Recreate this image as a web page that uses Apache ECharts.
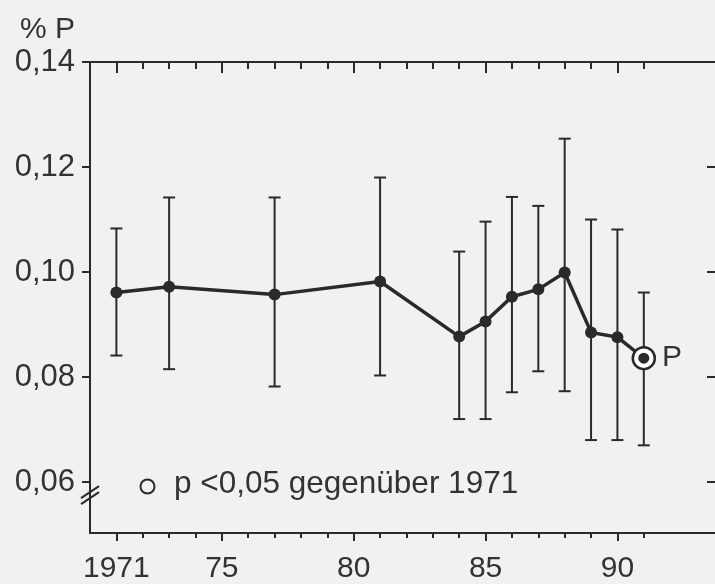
<!DOCTYPE html>
<html>
<head>
<meta charset="utf-8">
<script src="https://cdn.jsdelivr.net/npm/echarts@6/dist/echarts.min.js"></script>
<style>
  html, body { margin: 0; padding: 0; background: #f1f1f1; }
  #main { width: 715px; height: 584px; }
</style>
</head>
<body>
<div id="main"></div>
<script>
// values (% P per year, mean with upper/lower range)
const years = [1971, 1973, 1977, 1981, 1984, 1985, 1986, 1987, 1988, 1989, 1990, 1991]
const means = [0.0961, 0.0972, 0.0957, 0.0982, 0.0877, 0.0906, 0.0953, 0.0967, 0.0999, 0.0885, 0.0876, 0.0836]
const upper = [0.1083, 0.1142, 0.1142, 0.1180, 0.1039, 0.1096, 0.1143, 0.1126, 0.1254, 0.1100, 0.1081, 0.0961]
const lower = [0.0841, 0.0815, 0.0782, 0.0803, 0.0720, 0.0720, 0.0771, 0.0811, 0.0773, 0.0680, 0.0680, 0.0670]
const significant = [false, false, false, false, false, false, false, false, false, false, false, true]

const majorYears = [1971, 1975, 1980, 1985, 1990]
const allYears = [1971, 1972, 1973, 1974, 1975, 1976, 1977, 1978, 1979, 1980, 1981,
    1982, 1983, 1984, 1985, 1986, 1987, 1988, 1989, 1990, 1991]
const yTicks = [0.06, 0.08, 0.10, 0.12, 0.14]

const ink = '#2a2a2a'
const font = 'Liberation Sans, Arial, sans-serif'

const chart = echarts.init(document.getElementById('main'))

const xBase = {
    type: 'value', min: 1970, max: 1993.7, splitLine: {show: false},
    axisLine: {show: true, lineStyle: {color: ink, width: 2}}
}

const points = years.map((y, i) => [y, means[i]])
const bars = years.map((y, i) => [y, lower[i], upper[i]])
const sigPoints = points.filter((p, i) => significant[i])

const legendItems = [
    {type: 'circle', left: 138, top: 477, shape: {r: 7}, style: {fill: 'none', stroke: ink, lineWidth: 2}},
    {type: 'text', left: 174, top: 468, style: {text: 'p <0,05 gegenüber 1971', fill: '#333', fontSize: 31.5, fontFamily: font}}
]

const option = {
    backgroundColor: '#f1f1f1',
    animation: false,
    grid: {left: 90, right: 0, top: 62, bottom: 50},
    xAxis: [
        Object.assign({}, xBase, {
            position: 'bottom',
            axisTick: {show: true, length: 8, inside: false, customValues: majorYears, lineStyle: {color: ink, width: 2}},
            axisLabel: {
                customValues: majorYears, margin: 21, color: '#333', fontSize: 30, fontFamily: font,
                formatter: v => v === 1971 ? '1971' : String(v % 100)
            }
        }),
        Object.assign({}, xBase, {
            position: 'bottom',
            axisTick: {show: true, length: 5, customValues: allYears, lineStyle: {color: ink, width: 2}},
            axisLabel: {show: false}
        }),
        Object.assign({}, xBase, {
            position: 'top',
            axisTick: {show: true, length: 11, inside: true, customValues: majorYears, lineStyle: {color: ink, width: 2}},
            axisLabel: {show: false}
        }),
        Object.assign({}, xBase, {
            position: 'top',
            axisTick: {show: true, length: 7, inside: true, customValues: allYears, lineStyle: {color: ink, width: 2}},
            axisLabel: {show: false}
        })
    ],
    yAxis: [
        {
            type: 'value', min: 0.0503, max: 0.14, position: 'left',
            name: '% P', nameLocation: 'end', nameGap: 17,
            nameTextStyle: {color: '#333', fontSize: 30, fontFamily: font, align: 'right', padding: [0, 15, 0, 0]},
            splitLine: {show: false},
            axisLine: {show: true, lineStyle: {color: ink, width: 2}},
            axisTick: {show: true, length: 8, customValues: yTicks, lineStyle: {color: ink, width: 2}},
            axisLabel: {
                customValues: yTicks, margin: 15, color: '#333', fontSize: 31, fontFamily: font,
                padding: [10, 0, 0, 0],
                formatter: v => v.toFixed(2).replace('.', ',')
            }
        },
        {
            // right frame edge sits just outside the picture, only its ticks show
            type: 'value', min: 0.0503, max: 0.14, position: 'right',
            splitLine: {show: false},
            axisLine: {show: false},
            axisTick: {show: true, inside: true, length: 8, customValues: yTicks, lineStyle: {color: ink, width: 2}},
            axisLabel: {show: false}
        }
    ],
    series: [
        {
            type: 'custom',
            data: bars,
            z: 1,
            renderItem: (params, api) => {
                const x = api.value(0)
                const lo = api.coord([x, api.value(1)])
                const hi = api.coord([x, api.value(2)])
                const half = 6
                const style = {stroke: ink, lineWidth: 2}
                return {
                    type: 'group',
                    children: [
                        {type: 'line', shape: {x1: hi[0], y1: hi[1], x2: lo[0], y2: lo[1]}, style},
                        {type: 'line', shape: {x1: hi[0] - half, y1: hi[1], x2: hi[0] + half, y2: hi[1]}, style},
                        {type: 'line', shape: {x1: lo[0] - half, y1: lo[1], x2: lo[0] + half, y2: lo[1]}, style}
                    ]
                }
            }
        },
        {
            type: 'line',
            data: points,
            z: 2,
            symbol: 'circle',
            symbolSize: 12,
            lineStyle: {color: ink, width: 3.5},
            itemStyle: {color: ink}
        },
        {
            type: 'scatter',
            data: sigPoints,
            z: 3,
            symbol: 'circle',
            symbolSize: 22,
            itemStyle: {color: '#ffffff', borderColor: ink, borderWidth: 2.5, opacity: 1},
            label: {show: true, position: 'right', distance: 6, formatter: 'P', color: '#333', fontSize: 30, fontFamily: font}
        },
        {
            type: 'scatter',
            data: sigPoints,
            z: 4,
            symbol: 'circle',
            symbolSize: 11,
            itemStyle: {color: ink, opacity: 1}
        }
    ],
    graphic: legendItems
}

chart.setOption(option)

// axis-break marks on the y axis, placed from the axis scale
const brk = chart.convertToPixel({gridIndex: 0}, [1970, 0.0575])
chart.setOption({
    graphic: legendItems.concat([
        {type: 'line', shape: {x1: brk[0] - 9, y1: brk[1] + 9, x2: brk[0] + 9, y2: brk[1] - 3}, style: {stroke: ink, lineWidth: 2}},
        {type: 'line', shape: {x1: brk[0] - 9, y1: brk[1] + 3, x2: brk[0] + 9, y2: brk[1] - 9}, style: {stroke: ink, lineWidth: 2}}
    ])
})
</script>
</body>
</html>
